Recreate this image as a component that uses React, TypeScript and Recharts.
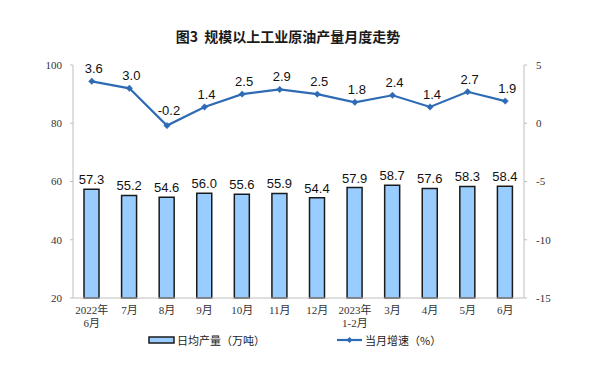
import React from "react";
import {
  ComposedChart,
  Bar,
  Line,
  XAxis,
  YAxis,
  LabelList,
} from "recharts";

const categories = ["2022年|6月", "7月", "8月", "9月", "10月", "11月", "12月", "2023年|1-2月", "3月", "4月", "5月", "6月"];
const dailyOutput = [57.3, 55.2, 54.6, 56.0, 55.6, 55.9, 54.4, 57.9, 58.7, 57.6, 58.3, 58.4];
const monthlyGrowth = [3.6, 3.0, -0.2, 1.4, 2.5, 2.9, 2.5, 1.8, 2.4, 1.4, 2.7, 1.9];
const leftTicks = [20, 40, 60, 80, 100];
const rightTicks = [-15, -10, -5, 0, 5];

const title = "图3  规模以上工业原油产量月度走势";
const barName = "日均产量（万吨）";
const lineName = "当月增速（%）";

const data = categories.map((c, i) => ({
  cat: c,
  output: dailyOutput[i],
  growth: monthlyGrowth[i],
}));

const BAR_FILL = "#99CCFF";
const BAR_STROKE = "#1A1A1A";
const LINE_COLOR = "#2E6BB5";
const AXIS_COLOR = "#BFBFBF";
const TICK_FONT = "'Liberation Serif', 'Noto Sans CJK SC', serif";
const LABEL_FONT = "'Liberation Sans', Arial, sans-serif";

const XTick = (props: any) => {
  const { x, y, payload } = props;
  const parts = String(payload.value).split("|");
  return (
    <g>
      {parts.map((p: string, i: number) => (
        <text
          key={i}
          x={x}
          y={y + 8 + i * 13}
          textAnchor="middle"
          fontSize={11}
          fontFamily={TICK_FONT}
          fill="#333"
        >
          {p}
        </text>
      ))}
    </g>
  );
};

const Diamond = (props: any) => {
  const { cx, cy } = props;
  if (cx == null || cy == null) return null;
  const s = 3.2;
  return (
    <path
      d={`M${cx},${cy - s}L${cx + s},${cy}L${cx},${cy + s}L${cx - s},${cy}Z`}
      fill={LINE_COLOR}
      stroke={LINE_COLOR}
      strokeWidth={0.5}
    />
  );
};

const GrowthLabel = (props: any) => {
  const { x, y, value } = props;
  if (x == null || y == null) return null;
  const extra = Number(value) < 0 ? 3 : 0;
  return (
    <text
      x={x + 2}
      y={y - 8 - extra}
      textAnchor="middle"
      fontSize={13}
      fontFamily={LABEL_FONT}
      fill="#111"
    >
      {Number(value).toFixed(1)}
    </text>
  );
};

export default function App() {
  return (
    <div
      style={{
        position: "absolute",
        left: 0,
        top: 0,
        width: 599,
        height: 375,
        background: "#fff",
        overflow: "hidden",
      }}
    >
      <div
        style={{
          position: "absolute",
          top: 26,
          left: 0,
          width: 576,
          textAlign: "center",
          fontFamily: "'Noto Sans CJK SC', sans-serif",
          fontWeight: 700,
          fontSize: 14,
          color: "#1a1a1a",
          whiteSpace: "pre",
          lineHeight: "20px",
        }}
      >
        {title}
      </div>
      <ComposedChart
        width={599}
        height={375}
        data={data}
        margin={{ top: 65, right: 0, bottom: 37, left: 0 }}
        barCategoryGap={0}
      >
        <XAxis
          dataKey="cat"
          stroke={AXIS_COLOR}
          tickLine={false}
          tick={<XTick />}
          height={40}
          interval={0}
        />
        <YAxis
          yAxisId="left"
          orientation="left"
          domain={[20, 100]}
          ticks={leftTicks}
          width={73}
          stroke={AXIS_COLOR}
          tickSize={3}
          tickMargin={8}
          tick={{ fontSize: 11, fontFamily: TICK_FONT, fill: "#333" }}
          interval={0}
        />
        <YAxis
          yAxisId="right"
          orientation="right"
          domain={[-15, 5]}
          ticks={rightTicks}
          width={75}
          stroke={AXIS_COLOR}
          tickSize={3}
          tickMargin={9}
          tick={{ fontSize: 11, fontFamily: TICK_FONT, fill: "#333" }}
          interval={0}
        />
        <Bar
          yAxisId="left"
          dataKey="output"
          barSize={15}
          fill={BAR_FILL}
          stroke={BAR_STROKE}
          strokeWidth={1.5}
          isAnimationActive={false}
        >
          <LabelList
            dataKey="output"
            position="top"
            offset={5}
            formatter={(v: any) => Number(v).toFixed(1)}
            style={{ fontSize: 13, fontFamily: LABEL_FONT, fill: "#111" }}
          />
        </Bar>
        <Line
          yAxisId="right"
          dataKey="growth"
          stroke={LINE_COLOR}
          strokeWidth={2.2}
          dot={<Diamond />}
          activeDot={false}
          isAnimationActive={false}
        >
          <LabelList dataKey="growth" content={<GrowthLabel />} />
        </Line>
      </ComposedChart>
      <svg
        style={{ position: "absolute", left: 0, top: 0, pointerEvents: "none" }}
        width={599}
        height={375}
      >
        <rect x={149} y={337} width={25} height={6} fill={BAR_FILL} stroke={BAR_STROKE} strokeWidth={1.5} />
        <text
          x={177}
          y={344.5}
          fontSize={11}
          fontFamily="'Noto Sans CJK SC', sans-serif"
          fill="#222"
        >
          {barName}
        </text>
        <line x1={337} y1={340} x2={362} y2={340} stroke={LINE_COLOR} strokeWidth={2.2} />
        <path d="M349.5,337L352.5,340L349.5,343L346.5,340Z" fill={LINE_COLOR} />
        <text
          x={365}
          y={344.5}
          fontSize={11}
          fontFamily="'Noto Sans CJK SC', sans-serif"
          fill="#222"
        >
          {lineName}
        </text>
      </svg>
    </div>
  );
}
